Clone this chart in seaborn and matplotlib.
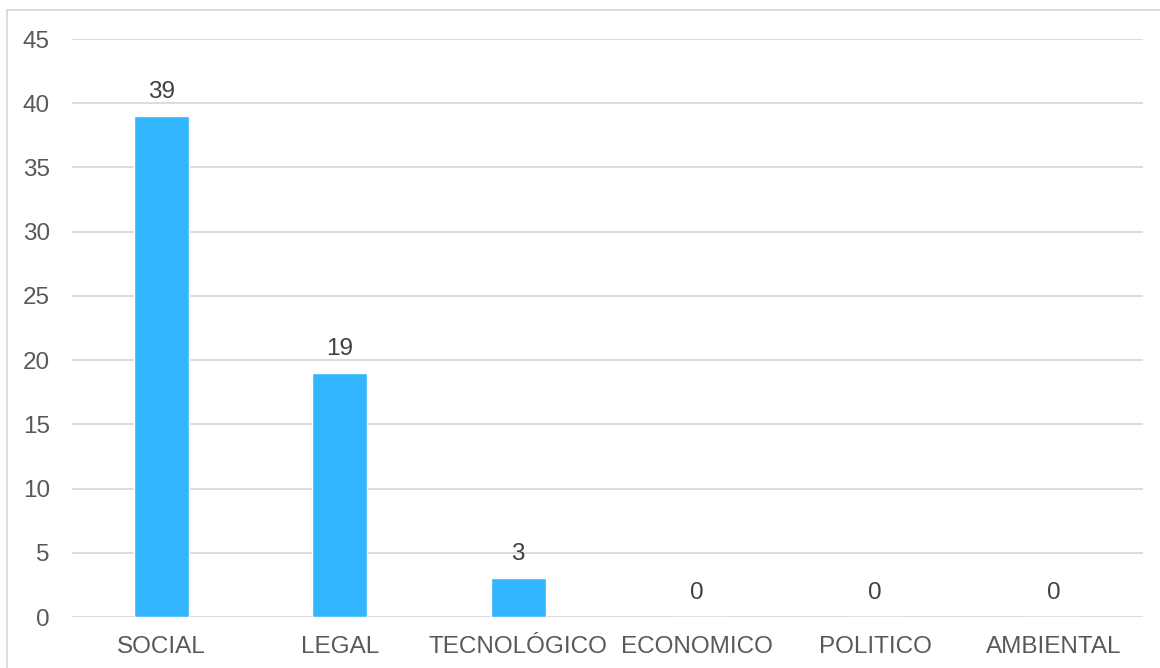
import matplotlib
matplotlib.use("Agg")
import matplotlib.pyplot as plt
from matplotlib.lines import Line2D
import seaborn as sns
import pandas as pd

categories = ["SOCIAL", "LEGAL", "TECNOLÓGICO", "ECONOMICO", "POLITICO", "AMBIENTAL"]
values = [39, 19, 3, 0, 0, 0]
y_ticks = [0, 5, 10, 15, 20, 25, 30, 35, 40, 45]

sns.set_theme(style="white")
plt.rcParams["font.family"] = ["Liberation Sans", "DejaVu Sans"]

W, H = 1160, 668
fig = plt.figure(figsize=(W / 100, H / 100), dpi=100)
ax = fig.add_axes([72 / W, 1 - 617 / H, (1143 - 72) / W, (617 - 39) / H])

df = pd.DataFrame({"cat": categories, "val": values})
sns.barplot(data=df, x="cat", y="val", color="#33B5FF", saturation=1,
            width=0.31, ax=ax, zorder=3)

text_color = "#595959"
fs = 17.5
ax.set_ylim(0, 45)
ax.set_xlim(-0.5, len(categories) - 0.5)
ax.set_yticks(y_ticks)
ax.yaxis.grid(True, color="#D9D9D9", linewidth=1.3, zorder=0)
ax.set_axisbelow(True)
for s in ax.spines.values():
    s.set_visible(False)
ax.set_xlabel("")
ax.set_ylabel("")
ax.tick_params(axis="both", length=0, labelsize=fs, colors=text_color)
ax.tick_params(axis="y", pad=16)
ax.tick_params(axis="x", pad=13.5)

for i, v in enumerate(values):
    ax.annotate(str(v), (i, v), xytext=(0, 17.5), textcoords="offset points",
                ha="center", va="center", fontsize=fs, color="#404040")

# figure frame: left and top edges
fig.add_artist(Line2D([6.5 / W, 6.5 / W], [0, 1 - 10 / H], color="#D9D9D9",
                      linewidth=1.3, transform=fig.transFigure))
fig.add_artist(Line2D([6.5 / W, 1], [1 - 10 / H, 1 - 10 / H], color="#D9D9D9",
                      linewidth=1.3, transform=fig.transFigure))

fig.savefig("out.png", dpi=100, facecolor="white")
